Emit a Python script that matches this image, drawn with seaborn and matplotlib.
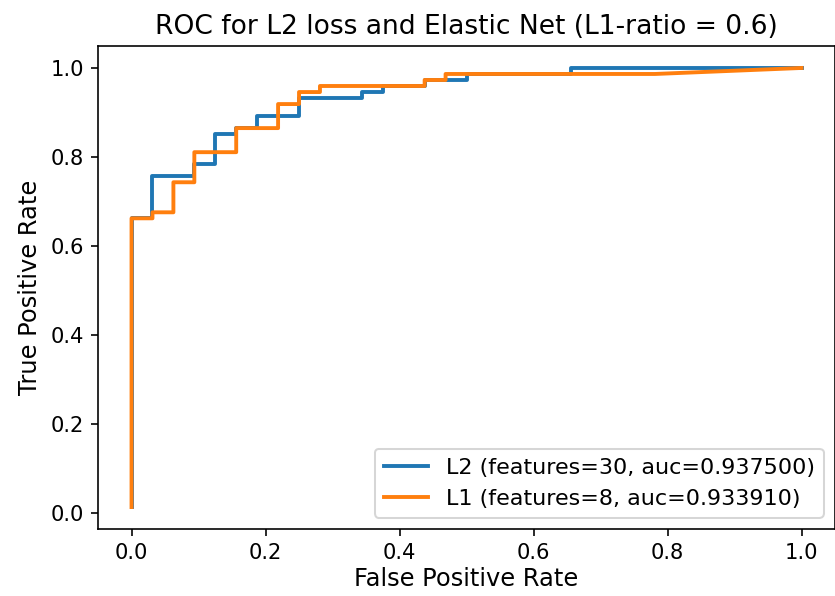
import matplotlib
matplotlib.use("Agg")
import matplotlib.pyplot as plt
import seaborn as sns

# ROC points (32 negatives, 74 positives)
fpr_l2 = [0.0, 0.0, 0.03125, 0.03125, 0.09375, 0.09375, 0.125, 0.125, 0.15625, 0.15625,
          0.1875, 0.1875, 0.25, 0.25, 0.34375, 0.34375, 0.375, 0.375, 0.4375, 0.4375,
          0.5, 0.5, 0.65625, 0.65625, 1.0]
tpr_l2 = [0.0135, 0.6622, 0.6622, 0.7568, 0.7568, 0.7838, 0.7838, 0.8514, 0.8514, 0.8649,
          0.8649, 0.8919, 0.8919, 0.9324, 0.9324, 0.9459, 0.9459, 0.9595, 0.9595, 0.9730,
          0.9730, 0.9865, 0.9865, 1.0, 1.0]

fpr_l1 = [0.0, 0.0, 0.03125, 0.03125, 0.0625, 0.0625, 0.09375, 0.09375, 0.15625, 0.15625,
          0.21875, 0.21875, 0.25, 0.25, 0.28125, 0.28125, 0.4375, 0.4375, 0.46875, 0.46875,
          0.78125, 1.0]
tpr_l1 = [0.0135, 0.6622, 0.6622, 0.6757, 0.6757, 0.7432, 0.7432, 0.8108, 0.8108, 0.8649,
          0.8649, 0.9189, 0.9189, 0.9459, 0.9459, 0.9595, 0.9595, 0.9730, 0.9730, 0.9865,
          0.9865, 1.0]

label_l2 = "L2 (features=30, auc=0.937500)"
label_l1 = "L1 (features=8, auc=0.933910)"

colors = sns.color_palette("tab10")

fig, ax = plt.subplots(figsize=(835 / 147, 596 / 147), dpi=147)
sns.lineplot(x=fpr_l2, y=tpr_l2, sort=False, estimator=None, color=colors[0],
             label=label_l2, linewidth=1.9, ax=ax)
sns.lineplot(x=fpr_l1, y=tpr_l1, sort=False, estimator=None, color=colors[1],
             label=label_l1, linewidth=1.9, ax=ax)

ax.set_title("ROC for L2 loss and Elastic Net (L1-ratio = 0.6)", fontsize=13)
ax.set_xlabel("False Positive Rate", fontsize=11.8, labelpad=2)
ax.set_ylabel("True Positive Rate", fontsize=11.8)
ax.tick_params(labelsize=10.3)
ax.legend(loc="lower right", fontsize=10.9)

fig.subplots_adjust(left=0.1174, right=1.0, top=0.9228, bottom=0.1124)
fig.savefig("out.png", dpi=147)
